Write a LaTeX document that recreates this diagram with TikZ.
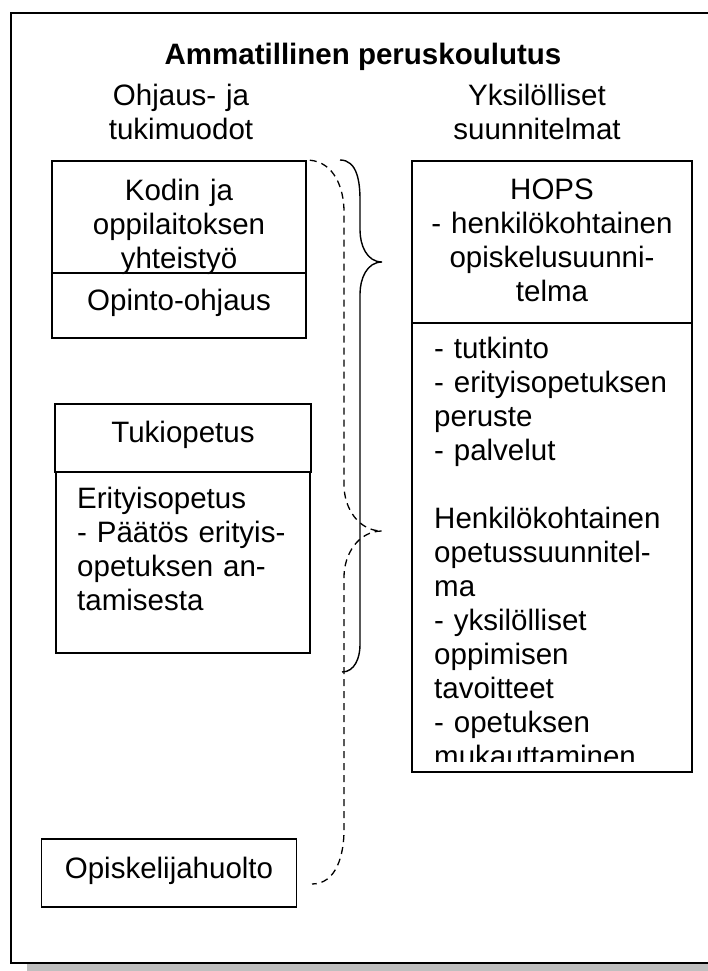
\documentclass[tikz,border=0pt]{standalone}
\usepackage{fontspec}
\setmainfont{Liberation Sans}
\newcommand{\txtsize}{\fontsize{29.5}{34}\selectfont}
\begin{document}
\begin{tikzpicture}[x=1pt, y=-1pt,
    every node/.style={inner sep=0pt, font=\txtsize},
    box/.style={draw, line width=1.6pt},
    brace/.style={line width=1.4pt},
    dashbrace/.style={line width=1.3pt, dash pattern=on 7pt off 5pt}]
    \path[use as bounding box, clip] (0,0) rectangle (708,971);

    % frame and shadow
    \fill[black!25] (27,29) rectangle (746,979);
    \draw[line width=2.2pt, fill=white] (11,13) rectangle (730,963);

    \node[font=\txtsize\bfseries, anchor=base] (title) at (363,65) {Ammatillinen peruskoulutus};
    \node[text width=220, align=center, anchor=base] (lhead) at (181,106) {Ohjaus- ja\\tukimuodot};
    \node[text width=240, align=center, anchor=base] (rhead) at (537,106) {Yksilölliset\\suunnitelmat};

    % left column
    \node[box, minimum width=254, minimum height=112] (kodin) at (179,217) {};
    \node[box, minimum width=254, minimum height=65] (opinto) at (179,305.5) {};
    \node[box, minimum width=256, minimum height=68] (tuki) at (183,438) {};
    \node[box, minimum width=254, minimum height=181] (erityis) at (183,562.5) {};
    \node[box, minimum width=255, minimum height=68] (huolto) at (169,873) {};

    \node[text width=240, align=center, anchor=base] (kodintxt) at (179,200) {Kodin ja\\oppilaitoksen\\yhteistyö};
    \node[anchor=base] (opintotxt) at (179,310) {Opinto-ohjaus};
    \node[anchor=base] (tukitxt) at (183,442) {Tukiopetus};
    \node[text width=230, align=left, anchor=base west] (erityistxt) at (77,508)
        {Erityisopetus\\- Päätös erityis-\\opetuksen an-\\tamisesta};
    \node[anchor=base] (huoltotxt) at (169,878) {Opiskelijahuolto};

    % right column
    \node[box, minimum width=280, minimum height=449] (suunn) at (552,547.5) {};
    \node[box, minimum width=280, minimum height=162] (hops) at (552,242) {};
    \node[text width=270, align=center, anchor=base] (hopstxt) at (552,199)
        {HOPS\\- henkilökohtainen\\opiskelusuunni-\\telma};
    \begin{scope}
        \clip (412,323) rectangle (692,761);
        \node[text width=250, align=left, anchor=base west] (suunntxt) at (434,358)
            {- tutkinto\\- erityisopetuksen\\peruste\\- palvelut\\ \mbox{}\\
             Henkilökohtainen\\opetussuunnitel-\\ma\\- yksilölliset\\oppimisen\\tavoitteet\\- opetuksen\\mukauttaminen};
    \end{scope}

    % braces
    \coordinate (bTop) at (340,160);
    \coordinate (bTip) at (382,262);
    \coordinate (bBot) at (342,672);
    \coordinate (dTip) at (382,531);
    \coordinate (dEnd) at (312,884);
    \draw[brace] (bTop) to[out=0,in=90] (360,200) -- (360,230) to[out=-90,in=180] (bTip)
        to[out=180,in=90] (360,294) -- (360,645) to[out=-90,in=0] (bBot);
    \draw[dashbrace] ([xshift=3pt]kodin.north east) to[out=-5,in=90] (344,212) -- (344,485)
        to[out=-90,in=180] (dTip) to[out=180,in=90] (344,577) -- (344,830) to[out=-90,in=0] (dEnd);
\end{tikzpicture}
\end{document}
